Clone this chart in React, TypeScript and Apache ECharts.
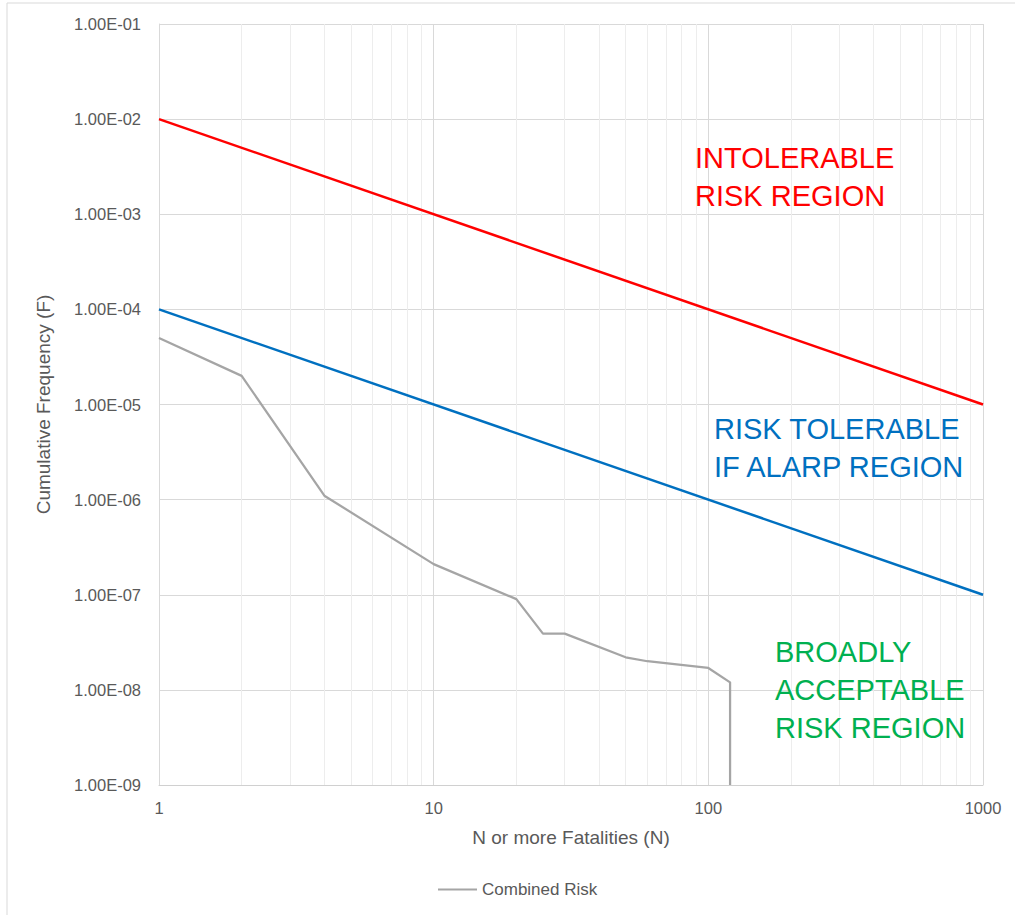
import React, { useEffect, useRef } from "react";
import * as echarts from "echarts";

const fatalities = [1, 2, 4, 10, 20, 25, 30, 50, 60, 100, 120, 120];
const combinedRisk = [5e-5, 2e-5, 1.1e-6, 2.1e-7, 9e-8, 3.9e-8, 3.9e-8, 2.2e-8, 2e-8, 1.7e-8, 1.2e-8, 1e-9];
const intolerableN = [1, 1000];
const intolerableF = [1e-2, 1e-5];
const alarpN = [1, 1000];
const alarpF = [1e-4, 1e-7];
const xMinorGrid = [2, 3, 4, 5, 6, 7, 8, 9, 20, 30, 40, 50, 60, 70, 80, 90, 200, 300, 400, 500, 600, 700, 800, 900];
const regionLabels = [
  { text: "INTOLERABLE\nRISK REGION", color: "#FF0000" },
  { text: "RISK TOLERABLE\nIF ALARP REGION", color: "#0070C0" },
  { text: "BROADLY\nACCEPTABLE\nRISK REGION", color: "#00B050" },
];

const FONT = "'Liberation Sans', Arial, sans-serif";

function fmtSci(v: number): string {
  const e = Math.round(Math.log10(v));
  const m = v / Math.pow(10, e);
  return m.toFixed(2) + "E" + (e < 0 ? "-" : "+") + String(Math.abs(e)).padStart(2, "0");
}

export default function App() {
  const ref = useRef<HTMLDivElement>(null);
  useEffect(() => {
    document.body.style.margin = "0";
    const chart = echarts.init(ref.current!, undefined, { renderer: "svg" });
    const labelPos = [
      { x: 695, y: 177 },
      { x: 714, y: 448 },
      { x: 775, y: 690 },
    ];
    chart.setOption({
      animation: false,
      backgroundColor: "#ffffff",
      textStyle: { fontFamily: FONT },
      grid: { left: 159, right: 32, top: 24, bottom: 130, containLabel: false },
      legend: {
        data: [{ name: "Combined Risk", icon: "rect" }],
        left: 433,
        top: 876,
        itemWidth: 39,
        itemHeight: 2,
        itemGap: 10,
        itemStyle: { color: "#A5A5A5" },
        textStyle: { color: "#595959", fontSize: 17, fontFamily: FONT },
      },
      xAxis: {
        type: "log",
        logBase: 10,
        min: 1,
        max: 1000,
        name: "N or more Fatalities (N)",
        nameLocation: "middle",
        nameGap: 43,
        nameTextStyle: { color: "#595959", fontSize: 19, fontFamily: FONT, verticalAlign: "top" },
        axisLine: { show: true, lineStyle: { color: "#d0d0d0", width: 1 } },
        axisTick: { show: false },
        axisLabel: { color: "#595959", fontSize: 16.5, margin: 14, fontFamily: FONT, formatter: (v: number) => String(v) },
        splitLine: { show: true, lineStyle: { color: "#d9d9d9", width: 1 } },
      },
      yAxis: {
        type: "log",
        logBase: 10,
        min: 1e-9,
        max: 1e-1,
        name: "Cumulative Frequency (F)",
        nameLocation: "middle",
        nameGap: 106,
        nameTextStyle: { color: "#595959", fontSize: 19, fontFamily: FONT },
        axisLine: { show: true, lineStyle: { color: "#d9d9d9", width: 1 } },
        axisTick: { show: false },
        axisLabel: { color: "#595959", fontSize: 16.5, margin: 18, fontFamily: FONT, formatter: (v: number) => fmtSci(v) },
        splitLine: { show: true, lineStyle: { color: "#d9d9d9", width: 1 } },
      },
      series: [
        {
          name: "grid-minor",
          type: "line",
          data: [],
          silent: true,
          z: 0,
          markLine: {
            silent: true,
            z: 0,
            symbol: "none",
            label: { show: false },
            emphasis: { disabled: true },
            lineStyle: { color: "#ededed", width: 1, type: "solid" },
            data: xMinorGrid.map((v) => ({ xAxis: v })),
          },
        },
        {
          name: "Intolerable",
          type: "line",
          data: intolerableN.map((n, i) => [n, intolerableF[i]]),
          symbol: "none",
          lineStyle: { color: "#FF0000", width: 2.5 },
          itemStyle: { color: "#FF0000" },
          z: 6,
        },
        {
          name: "ALARP",
          type: "line",
          data: alarpN.map((n, i) => [n, alarpF[i]]),
          symbol: "none",
          lineStyle: { color: "#0070C0", width: 2.5 },
          itemStyle: { color: "#0070C0" },
          z: 6,
        },
        {
          name: "Combined Risk",
          type: "line",
          data: fatalities.map((n, i) => [n, combinedRisk[i]]),
          symbol: "none",
          lineStyle: { color: "#A5A5A5", width: 2.25 },
          itemStyle: { color: "#A5A5A5" },
          z: 7,
        },
      ],
      graphic: [
        {
          type: "rect",
          silent: true,
          z: -1,
          shape: { x: 7, y: 3, width: 1030, height: 930 },
          style: { fill: "none", stroke: "#d9d9d9", lineWidth: 1 },
        },
        ...regionLabels.map((r, i) => ({
          type: "text",
          x: labelPos[i].x,
          y: labelPos[i].y,
          silent: true,
          z: 20,
          style: {
            text: r.text,
            fill: r.color,
            font: `29px ${FONT}`,
            lineHeight: 38,
            align: "left",
            verticalAlign: "middle",
          },
        })),
      ],
    });
    return () => chart.dispose();
  }, []);
  return <div ref={ref} style={{ width: 1015, height: 915 }} />;
}
